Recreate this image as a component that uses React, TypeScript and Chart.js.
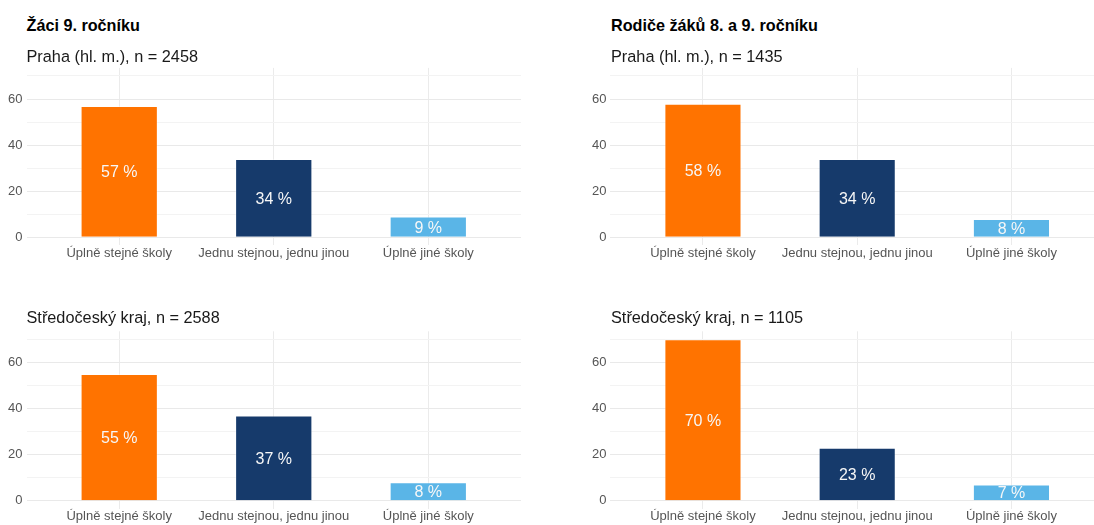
import React, { useEffect, useRef } from "react";
import { Chart, registerables } from "chart.js";

Chart.register(...registerables);

// ---- data ----
const categories = ["Úplně stejné školy", "Jednu stejnou, jednu jinou", "Úplně jiné školy"];
const zaciPraha = [57, 34, 9];
const zaciStredocesky = [55, 37, 8];
const rodicePraha = [58, 34, 8];
const rodiceStredocesky = [70, 23, 7];
const yLabelTicks = [0, 20, 40, 60];
const yGridTicks = [0, 10, 20, 30, 40, 50, 60, 70];

const groupTitles = ["Žáci 9. ročníku", "Rodiče žáků 8. a 9. ročníku"];
const panelSubtitles = [
  "Praha (hl. m.), n = 2458",
  "Středočeský kraj, n = 2588",
  "Praha (hl. m.), n = 1435",
  "Středočeský kraj, n = 1105",
];

// ---- styles ----
const FONT = '"Liberation Sans", Arial, Helvetica, sans-serif';
const barColors = ["#FF7300", "#163A6B", "#5AB5E7"];

type PanelLayout = {
  left: number;
  top: number;
  width: number;
  height: number;
  yAxisW: number;
  padTop: number;
  xAxisH: number;
};

const layouts: PanelLayout[] = [
  { left: 0, top: 40, width: 521, height: 230, yAxisW: 26.5, padTop: 27.9, xAxisH: 24.6 },
  { left: 0, top: 300, width: 521, height: 225, yAxisW: 26.5, padTop: 31.3, xAxisH: 16.2 },
  { left: 584, top: 40, width: 520, height: 230, yAxisW: 26.4, padTop: 27.9, xAxisH: 24.6 },
  { left: 584, top: 300, width: 520, height: 225, yAxisW: 26.4, padTop: 31.3, xAxisH: 16.2 },
];

const barLabelPlugin = {
  id: "barLabels",
  afterDatasetsDraw(chart: any) {
    const ctx = chart.ctx;
    const meta = chart.getDatasetMeta(0);
    const data = chart.data.datasets[0].data;
    ctx.save();
    ctx.font = `16px ${FONT}`;
    ctx.fillStyle = "#f7f7f7";
    ctx.textAlign = "center";
    ctx.textBaseline = "alphabetic";
    meta.data.forEach((el: any, i: number) => {
      const p = el.getProps(["x", "y", "base"], true);
      const v = data[i].y;
      ctx.fillText(`${v} %`, p.x, (p.y + p.base) / 2 + 5.8);
    });
    ctx.restore();
  },
};

function Panel({ values, layout }: { values: number[]; layout: PanelLayout }) {
  const ref = useRef<HTMLCanvasElement | null>(null);
  useEffect(() => {
    if (!ref.current) return;
    const chart = new Chart(ref.current, {
      type: "bar",
      data: {
        datasets: [
          {
            data: values.map((v, i) => ({ x: i + 1, y: v })),
            backgroundColor: barColors,
            borderColor: "rgba(255,255,255,0.35)",
            borderWidth: 1,
            barPercentage: 0.5,
            categoryPercentage: 1,
          } as any,
        ],
      },
      options: {
        responsive: false,
        animation: false,
        devicePixelRatio: 1,
        layout: { padding: { top: layout.padTop, left: 0, right: 0, bottom: 0 } },
        plugins: {
          legend: { display: false },
          tooltip: { enabled: false },
          title: { display: false },
        },
        scales: {
          x: {
            type: "linear",
            min: 0.4,
            max: 3.6,
            bounds: "data",
            offset: false,
            grid: { offset: false, color: "#ebebeb", drawTicks: false, lineWidth: 1 },
            border: { display: false },
            ticks: {
              padding: 0,
              color: "#555555",
              font: { family: FONT, size: 13 },
              autoSkip: false,
              maxRotation: 0,
              minRotation: 0,
              callback: (v: any) => categories[Number(v) - 1] ?? "",
            },
            afterBuildTicks: (s: any) => {
              s.ticks = categories.map((_, i) => ({ value: i + 1 }));
            },
            afterFit: (s: any) => {
              s.height = layout.xAxisH;
            },
          } as any,
          y: {
            type: "linear",
            min: -3.5,
            max: 73.5,
            bounds: "data",
            grid: {
              drawTicks: false,
              lineWidth: 1,
              color: (c: any) =>
                yLabelTicks.includes(c.tick?.value) ? "#e9e9e9" : "#f3f3f3",
            },
            border: { display: false },
            ticks: {
              padding: 4,
              color: "#555555",
              font: { family: FONT, size: 13 },
              callback: (v: any) => (yLabelTicks.includes(Number(v)) ? String(v) : ""),
            },
            afterBuildTicks: (s: any) => {
              s.ticks = yGridTicks.map((value) => ({ value }));
            },
            afterFit: (s: any) => {
              s.width = layout.yAxisW;
            },
          } as any,
        },
      },
      plugins: [barLabelPlugin],
    });
    return () => chart.destroy();
  }, [values, layout]);
  return (
    <canvas
      ref={ref}
      width={layout.width}
      height={layout.height}
      style={{
        position: "absolute",
        left: layout.left,
        top: layout.top,
        width: layout.width,
        height: layout.height,
      }}
    />
  );
}

const textBase: React.CSSProperties = {
  position: "absolute",
  fontFamily: FONT,
  fontSize: 16.3,
  lineHeight: "16px",
  whiteSpace: "nowrap",
  color: "#1a1a1a",
};

export default function App() {
  const seriesList = [zaciPraha, zaciStredocesky, rodicePraha, rodiceStredocesky];
  return (
    <div
      style={{
        position: "absolute",
        left: 0,
        top: 0,
        width: 1094,
        height: 525,
        overflow: "hidden",
        background: "#ffffff",
      }}
    >
      {seriesList.map((s, i) => (
        <Panel key={i} values={s} layout={layouts[i]} />
      ))}
      <div style={{ ...textBase, left: 26.5, top: 16.8, fontSize: 16.2, fontWeight: "bold", color: "#000" }}>
        {groupTitles[0]}
      </div>
      <div style={{ ...textBase, left: 611, top: 16.8, fontSize: 16.2, fontWeight: "bold", color: "#000" }}>
        {groupTitles[1]}
      </div>
      <div style={{ ...textBase, left: 26.5, top: 47.5 }}>{panelSubtitles[0]}</div>
      <div style={{ ...textBase, left: 26.5, top: 309.2 }}>{panelSubtitles[1]}</div>
      <div style={{ ...textBase, left: 611, top: 47.5 }}>{panelSubtitles[2]}</div>
      <div style={{ ...textBase, left: 611, top: 309.2 }}>{panelSubtitles[3]}</div>
    </div>
  );
}
